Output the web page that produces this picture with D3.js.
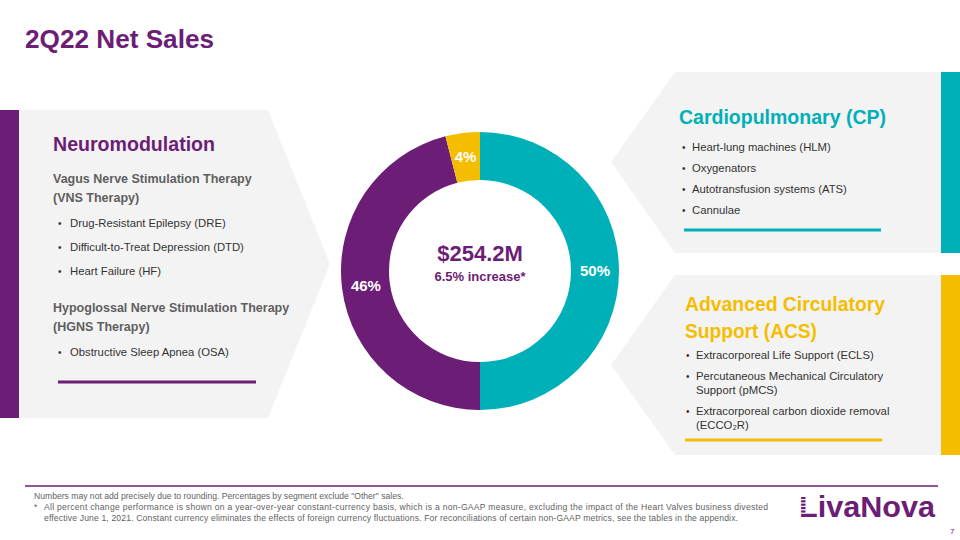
<!DOCTYPE html>
<html><head><meta charset="utf-8">
<script src="https://cdn.jsdelivr.net/npm/d3@7"></script>
<style>
body{margin:0;background:#fff;}
svg{display:block;font-family:"Liberation Sans",Arial,sans-serif;}
</style></head>
<body><svg id="c" width="960" height="540"></svg>
<script>
// ---- data ----
const segments = ["Cardiopulmonary (CP)", "Neuromodulation", "Advanced Circulatory Support (ACS)"];
const shares = [50, 46, 4];
const segmentColors = ["#00B0B9", "#6C1D75", "#F5BD00"];
const totalSales = "$254.2M";
const growth = "6.5% increase*";
const nmGroups = [
  {title: ["Vagus Nerve Stimulation Therapy", "(VNS Therapy)"], items: ["Drug-Resistant Epilepsy (DRE)", "Difficult-to-Treat Depression (DTD)", "Heart Failure (HF)"]},
  {title: ["Hypoglossal Nerve Stimulation Therapy", "(HGNS Therapy)"], items: ["Obstructive Sleep Apnea (OSA)"]}
];
const cpItems = ["Heart-lung machines (HLM)", "Oxygenators", "Autotransfusion systems (ATS)", "Cannulae"];
const acsItems = [["Extracorporeal Life Support (ECLS)"], ["Percutaneous Mechanical Circulatory", "Support (pMCS)"], ["Extracorporeal carbon dioxide removal", "(ECCO₂R)"]];
const footnotes = [
  "Numbers may not add precisely due to rounding. Percentages by segment exclude \"Other\" sales.",
  "All percent change performance is shown on a year-over-year constant-currency basis, which is a non-GAAP measure, excluding the impact of the Heart Valves business divested",
  "effective June 1, 2021. Constant currency eliminates the effects of foreign currency fluctuations. For reconciliations of certain non-GAAP metrics, see the tables in the appendix."
];

const svg = d3.select("#c");
const PURPLE = "#6C1D75", TEAL = "#00B0B9", YELLOW = "#F5BD00", PANEL = "#F3F3F3", GRAY = "#5F5F5F", DARK = "#333333";

function heading(x, yy, txt, color, size, len) {
  return svg.append("text").attr("x", x).attr("y", yy).attr("font-size", size).attr("font-weight", "bold")
    .attr("fill", color).attr("textLength", len).attr("lengthAdjust", "spacingAndGlyphs").text(txt);
}

// Title
heading(25, 48, "2Q22 Net Sales", PURPLE, 25, 189);

// Panels
svg.append("path").attr("d", "M19,110 L268,110 L330,264 L268,418 L19,418 Z").attr("fill", PANEL);
svg.append("rect").attr("x", 0).attr("y", 110).attr("width", 19).attr("height", 308).attr("fill", PURPLE);
svg.append("path").attr("d", "M675,72 L941,72 L941,253 L675,253 L611,162 Z").attr("fill", PANEL);
svg.append("rect").attr("x", 941).attr("y", 72).attr("width", 19).attr("height", 181).attr("fill", TEAL);
svg.append("path").attr("d", "M675,275 L941,275 L941,455 L675,455 L611,365 Z").attr("fill", PANEL);
svg.append("rect").attr("x", 941).attr("y", 275).attr("width", 19).attr("height", 180).attr("fill", YELLOW);

// Neuromodulation text
heading(53, 151, segments[1], PURPLE, 20, 162);
const groupStarts = [183, 312];
nmGroups.forEach((g, gi) => {
  let y = groupStarts[gi];
  g.title.forEach(t => {
    svg.append("text").attr("x", 53).attr("y", y).attr("font-size", 12.5).attr("font-weight", "bold").attr("fill", GRAY).text(t);
    y += 19;
  });
  y += 6;
  g.items.forEach(it => {
    svg.append("text").attr("x", 58).attr("y", y).attr("font-size", 10).attr("fill", DARK).text("•");
    svg.append("text").attr("x", 70).attr("y", y).attr("font-size", 11.3).attr("fill", DARK).text(it);
    y += 24;
  });
});
svg.append("line").attr("x1", 58).attr("x2", 256).attr("y1", 382).attr("y2", 382).attr("stroke", PURPLE).attr("stroke-width", 3);

// CP text
heading(679, 124, segments[0], TEAL, 20, 207);
cpItems.forEach((it, i) => {
  const yy = 151 + i * 21;
  svg.append("text").attr("x", 682).attr("y", yy).attr("font-size", 10).attr("fill", DARK).text("•");
  svg.append("text").attr("x", 692).attr("y", yy).attr("font-size", 11.3).attr("fill", DARK).text(it);
});
svg.append("line").attr("x1", 684).attr("x2", 881).attr("y1", 230).attr("y2", 230).attr("stroke", TEAL).attr("stroke-width", 3);

// ACS text
heading(685, 311, "Advanced Circulatory", YELLOW, 20, 200);
heading(685, 338, "Support (ACS)", YELLOW, 20, 132);
let ay = 359;
acsItems.forEach(lines => {
  svg.append("text").attr("x", 686).attr("y", ay).attr("font-size", 10).attr("fill", DARK).text("•");
  lines.forEach((l, li) => {
    svg.append("text").attr("x", 696).attr("y", ay + li * 14).attr("font-size", 11.3).attr("fill", DARK).text(l);
  });
  ay += (lines.length - 1) * 14 + 21;
});
svg.append("line").attr("x1", 685).attr("x2", 882).attr("y1", 440).attr("y2", 440).attr("stroke", YELLOW).attr("stroke-width", 3);

// Donut
const cx = 480, cy = 271, R = 139, r = 91;
const pie = d3.pie().sort(null).value(d => d)(shares);
const arc = d3.arc().innerRadius(r).outerRadius(R);
const g = svg.append("g").attr("transform", `translate(${cx},${cy})`);
g.selectAll("path").data(pie).join("path").attr("d", arc).attr("fill", (d, i) => segmentColors[i]);
g.selectAll("text.lbl").data(pie).join("text").attr("class", "lbl")
  .attr("transform", d => `translate(${arc.centroid(d)})`)
  .attr("text-anchor", "middle").attr("dy", "0.35em")
  .attr("font-size", 15).attr("font-weight", "bold").attr("fill", "#fff")
  .text(d => d.data + "%");
g.append("text").attr("text-anchor", "middle").attr("y", -10).attr("font-size", 22).attr("font-weight", "bold").attr("fill", PURPLE).text(totalSales);
g.append("text").attr("text-anchor", "middle").attr("y", 10).attr("font-size", 13).attr("font-weight", "bold").attr("fill", PURPLE).text(growth);

// Footer
svg.append("line").attr("x1", 25).attr("x2", 938).attr("y1", 486).attr("y2", 486).attr("stroke", PURPLE).attr("stroke-width", 1.5);
svg.append("text").attr("x", 34).attr("y", 499).attr("font-size", 8.6).attr("fill", GRAY).text(footnotes[0]);
svg.append("text").attr("x", 34).attr("y", 510).attr("font-size", 8.6).attr("fill", GRAY).text("*");
svg.append("text").attr("x", 44).attr("y", 510).attr("font-size", 8.6).attr("fill", GRAY).attr("textLength", 724).attr("lengthAdjust", "spacing").text(footnotes[1]);
svg.append("text").attr("x", 44).attr("y", 521).attr("font-size", 8.6).attr("fill", GRAY).attr("textLength", 694).attr("lengthAdjust", "spacing").text(footnotes[2]);

// Logo
svg.append("text").attr("x", 799).attr("y", 517).attr("font-size", 29).attr("font-weight", "bold").attr("fill", PURPLE)
  .attr("textLength", 136).attr("lengthAdjust", "spacingAndGlyphs").text("LivaNova");
// striped accents of the logo
const stripeYs = d3.range(499, 516, 3.4);
svg.selectAll("rect.stripeL").data(stripeYs).join("rect").attr("class", "stripeL")
  .attr("x", 799).attr("y", d => d).attr("width", 7).attr("height", 1.2).attr("fill", "#fff");
svg.append("text").attr("x", 950).attr("y", 534).attr("font-size", 8).attr("fill", PURPLE).text("7");
</script></body></html>
